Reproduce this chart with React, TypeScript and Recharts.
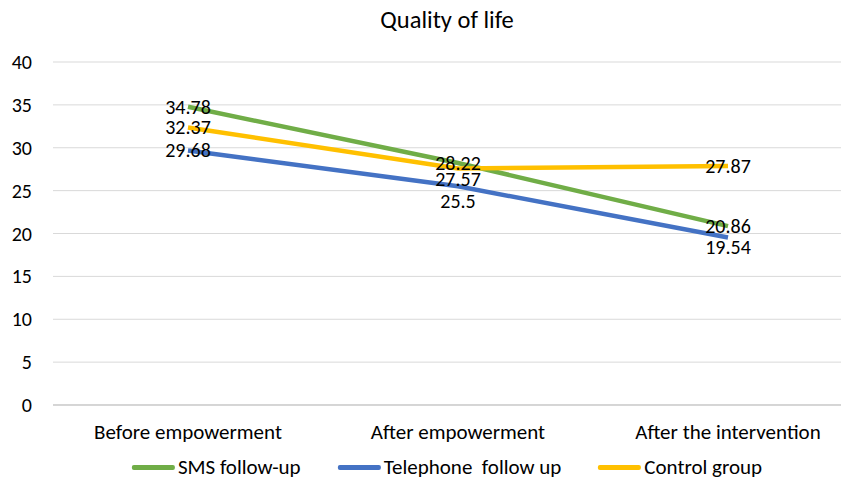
import { CartesianGrid, LabelList, Line, LineChart, XAxis, YAxis } from "recharts";

const categories = ["Before empowerment", "After empowerment", "After the intervention"];
const smsValues = [34.78, 28.22, 20.86];
const phoneValues = [29.68, 25.5, 19.54];
const controlValues = [32.37, 27.57, 27.87];
const yTicks = [0, 5, 10, 15, 20, 25, 30, 35, 40];

const FONT = "Carlito, 'Liberation Sans', Arial, sans-serif";

const series = [
  { key: "sms", name: "SMS follow-up", color: "#70AD47", shift: [0, 0, 0] },
  { key: "phone", name: "Telephone  follow up", color: "#4472C4", shift: [0, 15, 10] },
  { key: "control", name: "Control group", color: "#FFC000", shift: [0, 10, 0] },
];

const data = categories.map((name, i) => ({
  name,
  sms: smsValues[i],
  phone: phoneValues[i],
  control: controlValues[i],
}));

function makeLabel(shift: number[]) {
  return (props: any) => {
    const { x, y, value, index } = props;
    return (
      <text
        x={x}
        y={y + (shift[index] || 0)}
        textAnchor="middle"
        dominantBaseline="central"
        fontSize={20}
        fontFamily={FONT}
        fill="#000"
      >
        {value}
      </text>
    );
  };
}

export default function App() {
  return (
    <div style={{ position: "relative", width: 841, height: 480, fontFamily: FONT }}>
      <div
        style={{
          position: "absolute",
          left: 439,
          top: -3,
          transform: "translateX(-50%)",
          fontSize: 24.5,
          color: "#000",
          whiteSpace: "nowrap",
        }}
      >
        Quality of life
      </div>
      <LineChart
        width={841}
        height={480}
        data={data}
        margin={{ top: 54, right: 0, bottom: 33, left: 0 }}
      >
        <CartesianGrid vertical={false} stroke="#D9D9D9" strokeWidth={1} />
        <XAxis
          dataKey="name"
          padding={{ left: 135, right: 121 }}
          axisLine={{ stroke: "#BFBFBF", strokeWidth: 1 }}
          tickLine={false}
          tickSize={0}
          tickMargin={19}
          height={50}
          tick={{ fontSize: 21, fill: "#000", fontFamily: FONT }}
          interval={0}
        />
        <YAxis
          domain={[0, 40]}
          ticks={yTicks}
          width={45}
          axisLine={false}
          tickLine={false}
          tickSize={0}
          tickMargin={21}
          tick={{ fontSize: 20, fill: "#000", fontFamily: FONT }}
        />
        {series.map((s) => (
          <Line
            key={s.key}
            dataKey={s.key}
            name={s.name}
            stroke={s.color}
            strokeWidth={4.5}
            dot={false}
            activeDot={false}
            type="linear"
            isAnimationActive={false}
          />
        ))}
        {series.map((s) => (
          <Line
            key={s.key + "-labels"}
            dataKey={s.key}
            stroke="none"
            dot={false}
            activeDot={false}
            legendType="none"
            isAnimationActive={false}
          >
            <LabelList dataKey={s.key} content={makeLabel(s.shift)} />
          </Line>
        ))}
      </LineChart>
      <div
        style={{
          position: "absolute",
          left: 439,
          top: 446,
          transform: "translateX(-50%)",
          display: "flex",
          alignItems: "center",
          gap: 37,
          fontSize: 21,
          color: "#000",
          whiteSpace: "pre",
        }}
      >
        {series.map((s) => (
          <div key={s.key} style={{ display: "flex", alignItems: "center" }}>
            <span
              style={{
                display: "inline-block",
                width: 43,
                height: 5,
                borderRadius: 2,
                background: s.color,
                marginRight: 3,
              }}
            />
            <span>{s.name}</span>
          </div>
        ))}
      </div>
    </div>
  );
}
